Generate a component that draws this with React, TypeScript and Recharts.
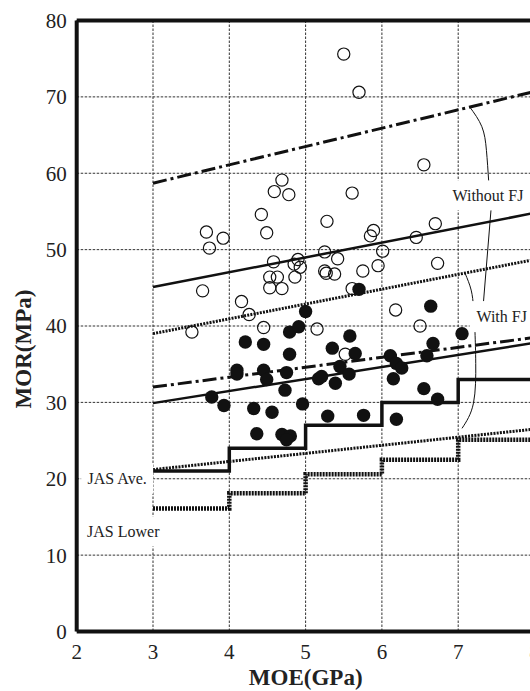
import React from 'react'
import { ComposedChart, XAxis, YAxis, CartesianGrid, Line, Scatter, ReferenceLine, Label } from 'recharts'

const xTicks = [2, 3, 4, 5, 6, 7, 8]
const yTicks = [0, 10, 20, 30, 40, 50, 60, 70, 80]

// open circles: without finger joint
const withoutMoe = [
  3.51, 3.65, 3.7, 3.74, 3.92, 4.16, 4.26, 4.45, 4.42, 4.49, 4.59, 4.69, 4.78, 4.58, 4.9,
  4.85, 4.93, 4.53, 4.63, 4.86, 4.53, 4.69, 5.5, 5.7, 6.55, 5.61, 5.28, 5.89, 5.85, 6.7,
  6.45, 5.25, 5.42, 6.01, 5.25, 5.27, 5.38, 5.75, 5.95, 6.73, 5.61, 6.18, 6.5, 5.15, 5.52,
]
const withoutMor = [
  39.2, 44.6, 52.3, 50.2, 51.5, 43.2, 41.5, 39.8, 54.6, 52.2, 57.6, 59.1, 57.2, 48.4, 48.7,
  48.1, 47.7, 46.4, 46.4, 46.4, 45.0, 44.9, 75.6, 70.6, 61.1, 57.4, 53.7, 52.5, 51.8, 53.4,
  51.6, 49.7, 48.8, 49.8, 47.2, 46.9, 46.8, 47.2, 47.9, 48.2, 44.9, 42.1, 40.0, 39.6, 36.3,
]

// filled circles: with finger joint
const withMoe = [
  3.77, 3.93, 4.1, 4.1, 4.21, 4.45, 4.45, 4.32, 4.36, 4.49, 4.56, 4.73, 4.75, 4.79, 4.79,
  4.91, 4.96, 4.69, 4.8, 4.75, 5.0, 5.17, 5.21, 5.29, 5.35, 5.39, 5.45, 5.57, 5.58, 5.65,
  5.7, 5.76, 6.11, 6.15, 6.19, 6.26, 6.19, 6.55, 6.59, 6.64, 6.67, 6.73, 7.05,
]
const withMor = [
  30.7, 29.6, 34.2, 33.7, 37.9, 37.6, 34.2, 29.2, 25.9, 33.0, 28.7, 31.6, 33.9, 36.3, 39.2,
  39.9, 29.8, 25.8, 25.6, 25.1, 41.9, 33.1, 33.4, 28.2, 37.1, 32.5, 34.7, 33.7, 38.7, 36.4,
  44.8, 28.3, 36.1, 33.1, 35.1, 34.5, 27.8, 31.8, 36.1, 42.6, 37.7, 30.4, 39.0,
]

// regression / bound lines
const lineMoe = [3, 8]
const withoutUpper = [58.7, 70.7]
const withoutMean = [45.1, 54.8]
const withoutLower = [39.0, 48.7]
const withUpper = [32.0, 38.5]
const withMean = [29.9, 37.8]
const withLower = [21.2, 26.5]

// JAS steps
const jasMoe = [3, 4, 5, 6, 7, 8]
const jasAve = [21, 24, 27, 30, 33, 33]
const jasLower = [16.1, 18.1, 20.6, 22.5, 25.1, 25.1]

// leader lines
const leadWoTopMoe = [7.15, 7.31, 7.37, 7.4]
const leadWoTopMor = [68.7, 66.1, 63.0, 58.9]
const leadWoBotMoe = [7.43, 7.33]
const leadWoBotMor = [55.2, 43.0]
const leadWTopMoe = [7.09, 7.17, 7.2]
const leadWTopMor = [46.9, 44.7, 42.5]
const leadWBotMoe = [7.22, 7.23, 7.2, 7.05]
const leadWBotMor = [39.2, 35.1, 29.9, 26.6]

const noteText = ['Without FJ', 'With FJ', 'JAS Ave.', 'JAS Lower']
const noteMoe = [7.39, 7.57, 2.53, 2.61]
const noteMor = [57.1, 41.3, 20, 13.1]

const pts = (xs: number[], ys: number[]) => xs.map((x, i) => ({ x, y: ys[i] }))
const notes = noteText.map((text, i) => ({ x: noteMoe[i], y: noteMor[i], text }))

const FONT = '"Liberation Serif", "Times New Roman", serif'
const INK = '#111'

const OpenDot = (p: any) => (
  <circle cx={p.cx} cy={p.cy} r={6.1} fill="none" stroke={INK} strokeWidth={1.2} />
)
const FilledDot = (p: any) => <circle cx={p.cx} cy={p.cy} r={6.7} fill={INK} />
const Note = (p: any) => {
  const t = p.payload.text as string
  const w = t.length * 8 + 8
  return (
    <g>
      <rect x={p.cx - w / 2} y={p.cy - 15} width={w} height={30} fill="#fff" />
      <text x={p.cx} y={p.cy} textAnchor="middle" dominantBaseline="central" fontSize={16} fontFamily={FONT} fill="#222">
        {t}
      </text>
    </g>
  )
}

function plainLine(key: string, data: any[], width: number, dash?: string, type: any = 'linear') {
  return (
    <Line
      key={key}
      data={data}
      dataKey="y"
      type={type}
      stroke={INK}
      strokeWidth={width}
      strokeDasharray={dash}
      dot={false}
      activeDot={false}
      legendType="none"
      isAnimationActive={false}
    />
  )
}

export default function App() {
  return (
    <div style={{ position: 'fixed', left: 0, top: 0, width: 530, height: 691, overflow: 'hidden', background: '#fff' }}>
      <ComposedChart width={550} height={691} margin={{ top: 20.5, right: 15.5, bottom: 0, left: 0 }}>
        <CartesianGrid stroke="#333" strokeDasharray="2.5 1.5" strokeWidth={1} />
        <XAxis
          dataKey="x"
          type="number"
          domain={[2, 8]}
          ticks={xTicks}
          interval={0}
          height={59.5}
          tickLine={false}
          tickMargin={7}
          axisLine={{ stroke: INK, strokeWidth: 4 }}
          tick={{ fontSize: 21, fill: '#222', fontFamily: FONT }}
        >
          <Label
            content={() => (
              <text x={305.7} y={685} textAnchor="middle" fontSize={23} fontWeight="bold" fontFamily={FONT} fill="#222">
                MOE(GPa)
              </text>
            )}
          />
        </XAxis>
        <YAxis
          type="number"
          domain={[0, 80]}
          ticks={yTicks}
          width={76.7}
          tickLine={false}
          tickMargin={4}
          axisLine={{ stroke: INK, strokeWidth: 4 }}
          tick={{ fontSize: 21, fill: '#222', fontFamily: FONT }}
        >
          <Label
            content={() => (
              <text
                x={23}
                y={349}
                transform="rotate(-90 23 349)"
                textAnchor="middle"
                dominantBaseline="central"
                fontSize={23}
                fontWeight="bold"
                fontFamily={FONT}
                fill="#222"
              >
                MOR(MPa)
              </text>
            )}
          />
        </YAxis>
        <ReferenceLine y={80} stroke={INK} strokeWidth={4} />
        <ReferenceLine x={8} stroke={INK} strokeWidth={4} />
        <Scatter data={notes} dataKey="y" shape={Note} legendType="none" isAnimationActive={false} />
        <Scatter data={pts(withoutMoe, withoutMor)} dataKey="y" shape={OpenDot} isAnimationActive={false} />
        {plainLine('wu', pts(lineMoe, withoutUpper), 3, '14 4 3 4')}
        {plainLine('wm', pts(lineMoe, withoutMean), 2.5)}
        {plainLine('wl', pts(lineMoe, withoutLower), 3, '2 1.2')}
        {plainLine('fu', pts(lineMoe, withUpper), 3, '14 4 3 4')}
        {plainLine('fm', pts(lineMoe, withMean), 2.5)}
        {plainLine('fl', pts(lineMoe, withLower), 3, '2 1.2')}
        {plainLine('ja', pts(jasMoe, jasAve), 3.5, undefined, 'stepAfter')}
        {plainLine('jl', pts(jasMoe, jasLower), 4.5, '2 1', 'stepAfter')}
        {plainLine('l1', pts(leadWoTopMoe, leadWoTopMor), 1, undefined, 'natural')}
        {plainLine('l2', pts(leadWoBotMoe, leadWoBotMor), 1)}
        {plainLine('l3', pts(leadWTopMoe, leadWTopMor), 1, undefined, 'natural')}
        {plainLine('l4', pts(leadWBotMoe, leadWBotMor), 1, undefined, 'natural')}
        <Scatter data={pts(withMoe, withMor)} dataKey="y" shape={FilledDot} isAnimationActive={false} />
      </ComposedChart>
    </div>
  )
}
